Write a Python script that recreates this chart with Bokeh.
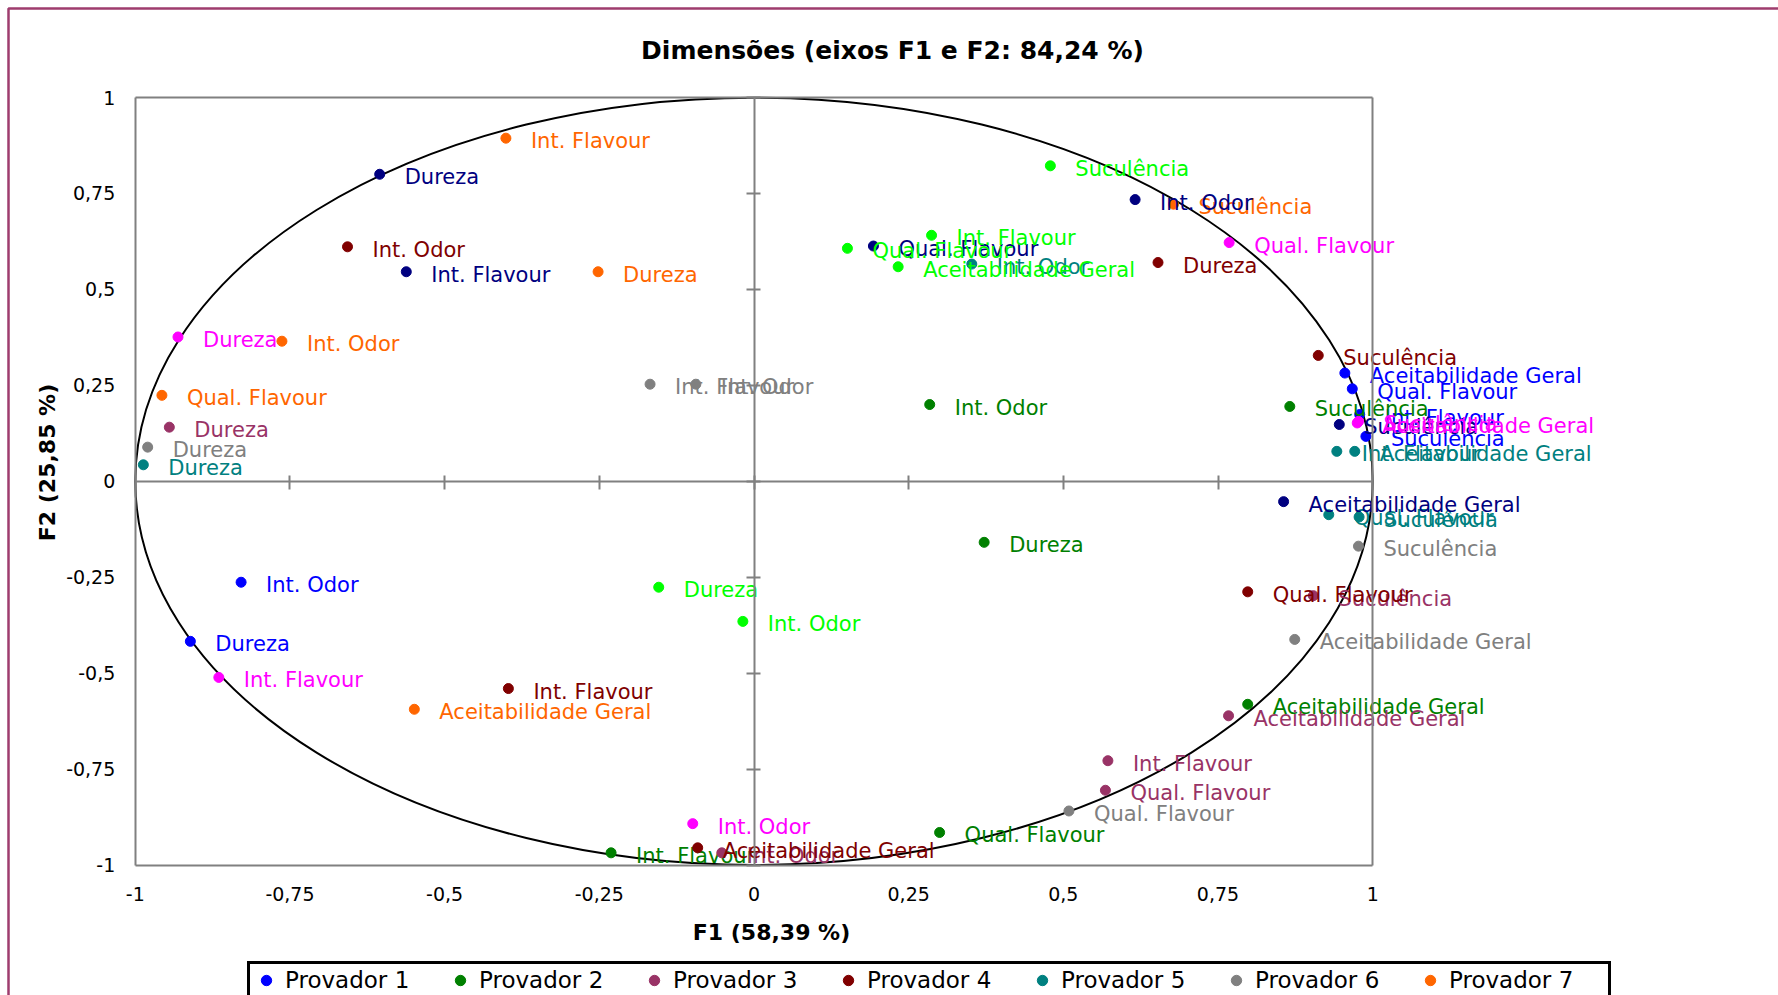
import math
from bokeh.plotting import figure
from bokeh.models import (Range1d, FixedTicker, LinearAxis, Legend, LegendItem,
                          Label, BoxAnnotation, ColumnDataSource)
from bokeh.core.properties import value
from bokeh.embed import file_html
from bokeh.resources import INLINE

# ---------------- data ----------------
attributes = ["Dureza", "Int. Odor", "Int. Flavour", "Qual. Flavour", "Suculência", "Aceitabilidade Geral"]

provadores = ["Provador 1", "Provador 2", "Provador 3", "Provador 4", "Provador 5",
              "Provador 6", "Provador 7", "Provador 8", "Provador 9", "Provador 10"]
colors = ["#0000FF", "#008000", "#993366", "#800000", "#008080",
          "#808080", "#FF6600", "#000080", "#FF00FF", "#00FF00"]
legend_count = 7  # the reference shows the first row of the legend only

# F1 / F2 coordinates, in the order of `attributes`
f1_p1 = [-0.911, -0.829, 0.979, 0.967, 0.989, 0.955]
f2_p1 = [-0.417, -0.263, 0.174, 0.241, 0.117, 0.282]
f1_p2 = [0.372, 0.284, -0.231, 0.300, 0.866, 0.798]
f2_p2 = [-0.159, 0.200, -0.968, -0.915, 0.195, -0.581]
f1_p3 = [-0.945, -0.052, 0.572, 0.568, 0.904, 0.767]
f2_p3 = [0.141, -0.968, -0.728, -0.805, -0.298, -0.611]
f1_p4 = [0.653, -0.657, -0.397, 0.798, 0.912, -0.091]
f2_p4 = [0.570, 0.611, -0.540, -0.288, 0.328, -0.955]
f1_p5 = [-0.987, 0.352, 0.942, 0.929, 0.978, 0.971]
f2_p5 = [0.043, 0.566, 0.078, -0.087, -0.093, 0.078]
f1_p6 = [-0.980, -0.094, -0.168, 0.509, 0.977, 0.874]
f2_p6 = [0.089, 0.253, 0.253, -0.859, -0.169, -0.412]
f1_p7 = [-0.252, -0.763, -0.401, -0.957, 0.678, -0.549]
f2_p7 = [0.546, 0.365, 0.894, 0.224, 0.722, -0.594]
f1_p8 = [-0.605, 0.616, -0.562, 0.193, 0.946, 0.856]
f2_p8 = [0.800, 0.734, 0.546, 0.613, 0.148, -0.053]
f1_p9 = [-0.931, -0.099, -0.865, 0.768, 0.977, 0.975]
f2_p9 = [0.376, -0.892, -0.511, 0.622, 0.156, 0.152]
f1_p10 = [-0.154, -0.018, 0.287, 0.151, 0.479, 0.233]
f2_p10 = [-0.276, -0.365, 0.641, 0.607, 0.822, 0.559]

f1_all = [f1_p1, f1_p2, f1_p3, f1_p4, f1_p5, f1_p6, f1_p7, f1_p8, f1_p9, f1_p10]
f2_all = [f2_p1, f2_p2, f2_p3, f2_p4, f2_p5, f2_p6, f2_p7, f2_p8, f2_p9, f2_p10]

tick_values = [-1, -0.75, -0.5, -0.25, 0, 0.25, 0.5, 0.75, 1]
tick_labels = ["-1", "-0,75", "-0,5", "-0,25", "0", "0,25", "0,5", "0,75", "1"]
axis_min, axis_max = -1, 1

title_text = "Dimensões (eixos F1 e F2: 84,24 %)"
x_title = "F1 (58,39 %)"
y_title = "F2 (25,85 %)"

circle_center = 0
circle_radius = 1

# ---------------- layout (pixels) ----------------
FONT = "DejaVu Sans"
W, H = 1778, 995
X0, SX = 753.5, 618.7     # pixel of F1 = 0, pixels per unit
Y0, SY = 480.8, 383.8     # pixel of F2 = 0 (from top), pixels per unit

# the frame covers the whole canvas so that labels outside the box are not clipped
x_range = Range1d(-X0 / SX, (W - X0) / SX)
y_range = Range1d((Y0 - H) / SY, Y0 / SY)

p = figure(width=W, height=H, x_range=x_range, y_range=y_range,
           x_axis_location=None, y_axis_location=None, title=None,
           output_backend="svg", toolbar_location=None,
           min_border=0, min_border_left=0, min_border_right=0,
           min_border_top=0, min_border_bottom=0,
           background_fill_color="white", border_fill_color="white")
p.grid.visible = False
p.outline_line_color = None

overrides = {v: s for v, s in zip(tick_values, tick_labels)}
GRAY = "#808080"


def box_axis(loc, side, labels):
    ax = LinearAxis(fixed_location=loc, bounds=(axis_min, axis_max),
                    ticker=FixedTicker(ticks=tick_values),
                    axis_line_color=GRAY, axis_line_width=2,
                    major_tick_line_color=None, minor_tick_line_color=None,
                    major_tick_in=0, major_tick_out=0)
    if labels:
        ax.major_label_overrides = overrides
        ax.major_label_text_font = FONT
        ax.major_label_text_font_size = "19px"
        ax.major_label_text_color = "black"
    else:
        ax.major_label_text_color = None
        ax.major_label_text_font_size = "1px"
    p.add_layout(ax, side)
    return ax


bottom_ax = box_axis(axis_min, "below", True)
bottom_ax.major_label_standoff = 22

left_ax = box_axis(axis_min, "left", True)
left_ax.major_label_standoff = 20

box_axis(axis_max, "above", False)
box_axis(axis_max, "right", False)

# axes crossing at the origin
for side in ("below", "left"):
    cax = LinearAxis(fixed_location=0, bounds=(axis_min, axis_max),
                     ticker=FixedTicker(ticks=tick_values),
                     axis_line_color=GRAY, axis_line_width=2,
                     major_tick_line_color=GRAY, major_tick_line_width=2,
                     major_tick_in=6, major_tick_out=8,
                     minor_tick_line_color=None,
                     major_label_text_color=None, major_label_text_font_size="1px")
    p.add_layout(cax, side)

# correlation circle
p.ellipse(x=[circle_center], y=[circle_center], width=[2 * circle_radius], height=[2 * circle_radius],
          fill_color=None, line_color="black", line_width=2)

items = []
for i, (name, col, xs, ys) in enumerate(zip(provadores, colors, f1_all, f2_all)):
    src = ColumnDataSource(dict(x=xs, y=ys, label=attributes))
    r = p.scatter("x", "y", source=src, size=10, color=col)
    p.text("x", "y", text="label", source=src, text_color=col,
           text_font=value(FONT), text_font_size="21px",
           text_baseline="middle", text_align="left", x_offset=25, y_offset=3)
    if i < legend_count:
        items.append(LegendItem(label=name, renderers=[r]))

# title and axis titles (screen units = pixels from the bottom-left of the canvas here)
p.add_layout(Label(x=892, y=H - 50, x_units="screen", y_units="screen",
                   text=title_text, text_align="center", text_baseline="middle",
                   text_font=FONT, text_font_style="bold", text_font_size="25px",
                   text_color="black"))
p.add_layout(Label(x=771, y=H - 932, x_units="screen", y_units="screen",
                   text=x_title, text_align="center", text_baseline="middle",
                   text_font=FONT, text_font_style="bold", text_font_size="22px",
                   text_color="black"))
p.add_layout(Label(x=47, y=H - 462, x_units="screen", y_units="screen",
                   text=y_title, text_align="center", text_baseline="middle",
                   angle=math.pi / 2,
                   text_font=FONT, text_font_style="bold", text_font_size="22px",
                   text_color="black"))

# outer chart border (top and left edges visible)
p.add_layout(BoxAnnotation(left=8, right=W + 100, top=H - 8, bottom=-100,
                           left_units="screen", right_units="screen",
                           top_units="screen", bottom_units="screen",
                           fill_alpha=0, fill_color=None,
                           line_color="#9E3C6E", line_width=2.5, line_alpha=1))

# legend
legend = Legend(items=items, orientation="horizontal",
                location=(247, -4),
                label_text_font=FONT, label_text_font_size="23px",
                label_text_color="black",
                glyph_width=26, glyph_height=26, label_standoff=6, label_width=156,
                spacing=6, padding=3, margin=0,
                border_line_color="black", border_line_width=3, border_line_alpha=1,
                background_fill_color="white", background_fill_alpha=1)
p.add_layout(legend, "center")

open("out.html", "w").write(file_html(p, INLINE))
